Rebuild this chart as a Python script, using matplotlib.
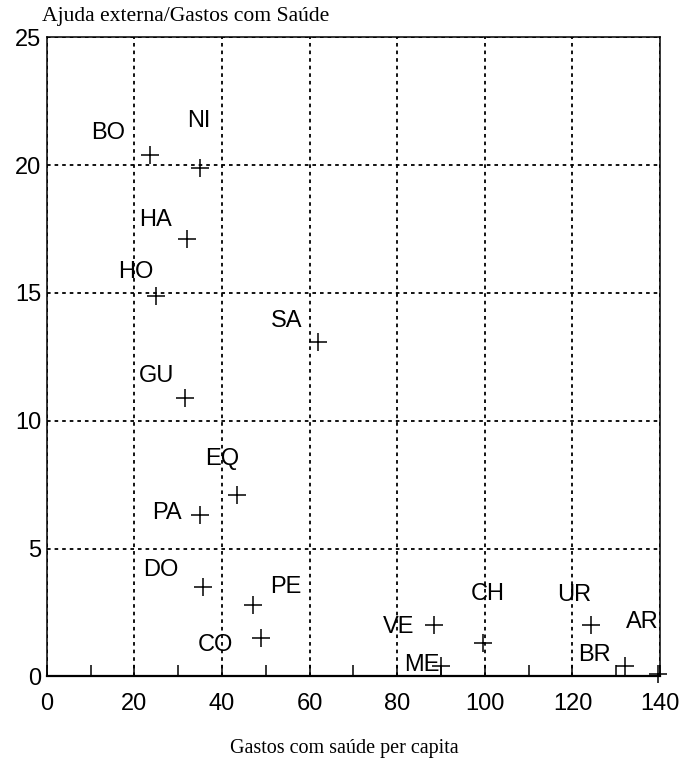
import matplotlib
matplotlib.use("Agg")
import matplotlib.pyplot as plt
from matplotlib.ticker import MultipleLocator

# country codes, health spending per capita, external aid / health spending
countries = ["BO", "NI", "HA", "HO", "SA", "GU", "EQ", "PA", "DO",
             "PE", "CO", "VE", "CH", "ME", "UR", "BR", "AR"]
gasto_pc = [23.5, 35, 32, 25, 62, 31.5, 43.5, 35, 35.6,
            47, 49, 88.5, 99.5, 90, 124.3, 132, 139.5]
ajuda_pct = [20.4, 19.9, 17.1, 14.9, 13.1, 10.9, 7.1, 6.3, 3.5,
             2.8, 1.5, 2.0, 1.3, 0.4, 2.0, 0.4, 0.1]

# label offsets from the marker, in points
label_offsets = [(-30, 16), (-1, 34), (-23, 14), (-15, 17), (-23, 15), (-20, 16),
                 (-11, 26), (-24, 2), (-30, 12), (24, 13), (-33, -5), (-26, -1),
                 (4, 35), (-14, 1), (-12, 22), (-22, 8), (-11, 37)]

fig = plt.figure(figsize=(6.89, 7.65), dpi=100)
ax = fig.add_axes([0.068, 0.116, 0.890, 0.835])

ax.plot(gasto_pc, ajuda_pct, linestyle="none", marker="+",
        markersize=13, markeredgewidth=1.1, color="black", clip_on=False)

for c, x, y, off in zip(countries, gasto_pc, ajuda_pct, label_offsets):
    ax.annotate(c, (x, y), xytext=off, textcoords="offset points",
                ha="center", va="center", fontsize=17,
                family="Liberation Sans")

ax.set_xlim(0, 140)
ax.set_ylim(0, 25)
ax.xaxis.set_major_locator(MultipleLocator(20))
ax.xaxis.set_minor_locator(MultipleLocator(10))
ax.yaxis.set_major_locator(MultipleLocator(5))

ax.grid(True, which="major", color="black", linestyle=(0, (2, 2.2)), linewidth=1.3)
ax.tick_params(axis="x", which="both", direction="in", length=8, width=1.1,
               pad=12, labelsize=17)
ax.tick_params(axis="y", which="both", length=0, pad=4, labelsize=17)
for lab in ax.get_xticklabels() + ax.get_yticklabels():
    lab.set_family("Liberation Sans")

for side in ["left", "top", "right"]:
    ax.spines[side].set_linewidth(1.1)
ax.spines["bottom"].set_linewidth(1.6)

fig.text(0.061, 0.978, "Ajuda externa/Gastos com Saúde", ha="left", va="center",
         fontsize=15.6, family="Liberation Serif")
fig.text(0.5, 0.022, "Gastos com saúde per capita", ha="center", va="center",
         fontsize=14.5, family="Liberation Serif")

fig.savefig("out.png", dpi=100)
